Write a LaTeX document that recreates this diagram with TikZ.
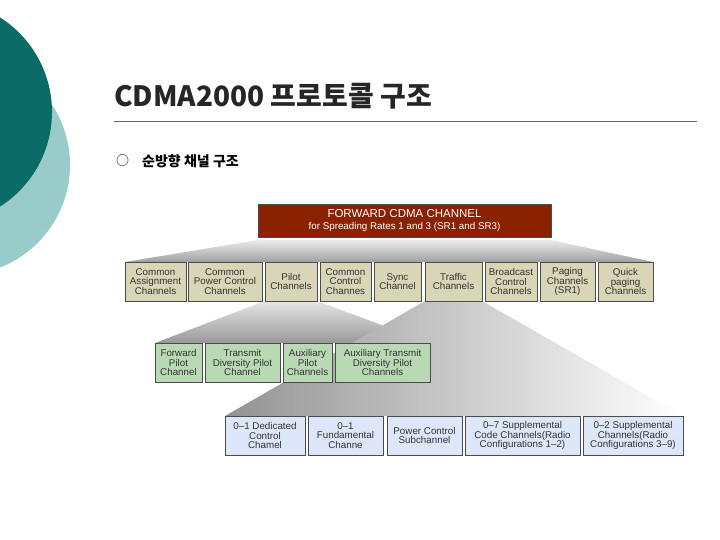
\documentclass[tikz,border=0pt]{standalone}
\usepackage{fontspec}
\setmainfont{Liberation Sans}
\newfontfamily\kr{Noto Sans CJK KR}
\begin{document}
\begin{tikzpicture}[x=1pt,y=-1pt,
 bx/.style={draw=black!70,line width=0.6pt,align=center,inner sep=0pt,font=\fontsize{9.8}{9.6}\selectfont,text=black!80},
 r1/.style={bx,fill=rowone},
 r2/.style={bx,fill=rowtwo},
 r3/.style={bx,fill=rowthree}]
\definecolor{rowone}{HTML}{D9D6B8}
\definecolor{rowtwo}{HTML}{B9D9B4}
\definecolor{rowthree}{HTML}{DEE7F9}
\definecolor{topred}{HTML}{8A2200}
\definecolor{tealdark}{HTML}{0B6B66}
\definecolor{teallight}{HTML}{9ACBCB}
\useasboundingbox (0,0) rectangle (720,540);
\fill[white] (0,0) rectangle (720,540);
\fill[teallight] (-40,165) circle (110);
\fill[tealdark] (-60,112) circle (112);
% title
\node[anchor=west,font=\kr\bfseries\fontsize{28}{30}\selectfont,text=black!85,inner sep=0pt] (title) at (114,96) {CDMA2000 프로토콜 구조};
\draw[black!60,line width=0.6pt] (114,121) -- (697,121);
\node[anchor=west,font=\kr\fontsize{13}{14}\selectfont,inner sep=0pt] (bul) at (116,161) {○};
\node[anchor=west,font=\kr\bfseries\fontsize{14}{15}\selectfont,inner sep=0pt] (sub) at (142,161) {순방향 채널 구조};
% fans
\shade[top color=gray!15,bottom color=gray!75] (258,240) -- (551,240) -- (653,262) -- (125,262) -- cycle;
\shade[top color=gray!20,bottom color=gray!80] (265,301) -- (317,301) -- (430,343) -- (155,343) -- cycle;
\shade[left color=gray!85,right color=white] (425,301) -- (482,301) -- (683,416) -- (225,416) -- cycle;
% top
\node[bx,fill=topred,text=white,minimum width=293,minimum height=33,font=\fontsize{11.5}{13}\selectfont] (top) at (404.5,220.5) {FORWARD CDMA CHANNEL\\[-1pt]{\fontsize{9.8}{11}\selectfont for Spreading Rates 1 and 3 (SR1 and SR3)}};
% row1
\foreach \n/\a/\b/\t in {a/125/186/{Common\\Assignment\\Channels},b/188/262/{Common\\Power Control\\Channels},c/265/317/{Pilot\\Channels},d/320/371/{Common\\Control\\Channes},e/374/421/{Sync\\Channel},f/425/482/{Traffic\\Channels},g/485/537/{Broadcast\\Control\\Channels},h/540/595/{Paging\\Channels\\(SR1)},i/598/653/{Quick\\paging\\Channels}}
 \node[r1,minimum width=\b-\a,minimum height=39] (r1\n) at ({(\a+\b)/2},281.5) {\t};
% row2
\foreach \n/\a/\b/\t in {a/155/202/{Forward\\Pilot\\Channel},b/205/280/{Transmit\\Diversity Pilot\\Channel},c/283/332/{Auxiliary\\Pilot\\Channels},d/335/430/{Auxiliary Transmit\\Diversity Pilot\\Channels}}
 \node[r2,minimum width=\b-\a,minimum height=39] (r2\n) at ({(\a+\b)/2},362.5) {\t};
% row3
\foreach \n/\a/\b/\t in {a/225/305/{0--1 Dedicated\\Control\\Chamel},b/308/383/{0--1\\Fundamental\\Channe},c/387/462/{Power Control\\Subchannel},d/465/580/{0--7 Supplemental\\Code Channels(Radio\\Configurations 1--2)},e/583/683/{0--2 Supplemental\\Channels(Radio\\Configurations 3--9)}}
 \node[r3,minimum width=\b-\a,minimum height=39] (r3\n) at ({(\a+\b)/2},435.5) {\t};
\end{tikzpicture}
\end{document}
